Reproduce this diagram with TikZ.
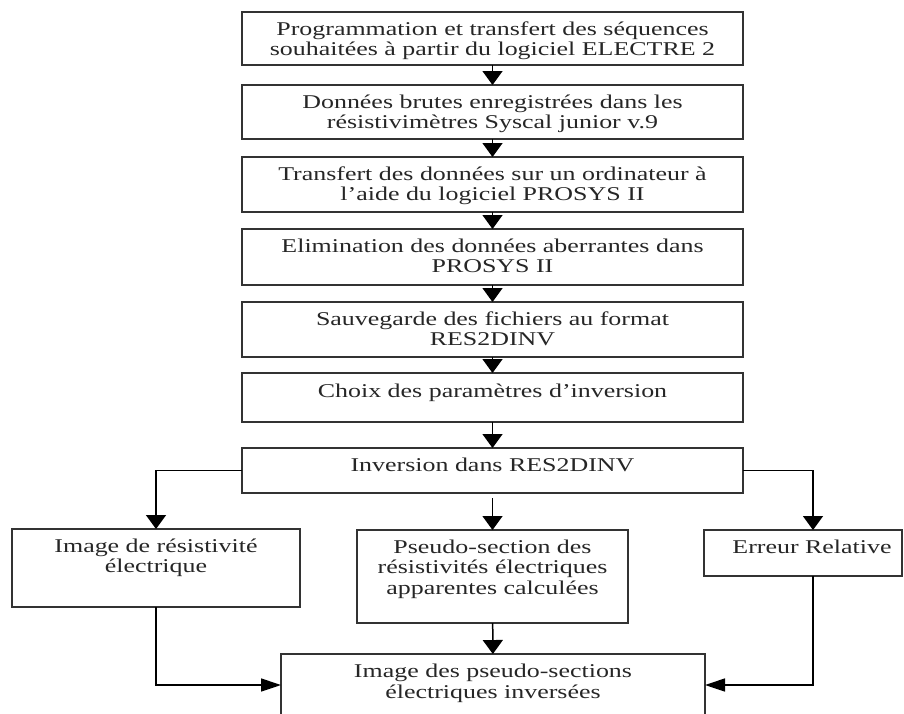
\documentclass[tikz,border=0pt]{standalone}
\usepackage{fontspec}
\setmainfont{Liberation Serif}[FakeStretch=1.33]
\usetikzlibrary{arrows.meta}
\begin{document}
\begin{tikzpicture}[x=1pt,y=-1pt,
  box/.style={draw=black!80,line width=2pt,outer sep=0pt,inner sep=0pt,anchor=north west,align=center,text=black!85,font=\fontsize{19.5}{20}\selectfont,text height=23pt,text width=501pt},
  arr/.style={line width=1.5pt,-{Triangle[width=20pt,length=14pt]}},
  harr/.style={line width=1.5pt,-{Triangle[width=13pt,length=20pt]}}]
\useasboundingbox (0,0) rectangle (904,713);
\clip (0,0) rectangle (904,713);
\node[box,text depth=30pt] (prog) at (242,12) {Programmation et transfert des séquences\\souhaitées à partir du logiciel ELECTRE 2};
\node[box,text depth=31pt] (donnees) at (242,85) {Données brutes enregistrées dans les\\résistivimètres Syscal junior v.9};
\node[box,text depth=32pt] (transfert) at (242,157) {Transfert des données sur un ordinateur à\\l’aide du logiciel PROSYS II};
\node[box,text depth=33pt] (elim) at (242,229) {Elimination des données aberrantes dans\\PROSYS II};
\node[box,text depth=32pt] (sauv) at (242,302) {Sauvegarde des fichiers au format\\RES2DINV};
\node[box,text depth=25pt,text height=24pt] (choix) at (242,373) {Choix des paramètres d’inversion};
\node[box,text depth=22pt] (inv) at (242,448) {Inversion dans RES2DINV};
\node[box,text width=288pt,text depth=55pt] (img) at (12,529) {Image de résistivité\\électrique};
\node[box,text width=271pt,text depth=70pt,font=\fontsize{19.5}{20.5}\selectfont] (pseudo) at (357,530) {Pseudo-section des\\résistivités électriques\\apparentes calculées};
\node[box,text width=198pt,text depth=23pt] (err) at (704,530) {\hspace*{18pt}Erreur Relative};
\node[box,text width=424pt,text depth=39pt,font=\fontsize{19.5}{21}\selectfont] (final) at (281,654) {Image des pseudo-sections\\électriques inversées};
\foreach \a/\b in {prog/donnees,donnees/transfert,transfert/elim,elim/sauv,sauv/choix,choix/inv}
  \draw[arr] (\a) -- (\b);
\coordinate (invgap) at ([yshift=-5pt]inv.south);
\coordinate (errtop) at ([xshift=10pt]err.north);
\coordinate (errbot) at ([xshift=10pt]err.south);
\draw[arr] (inv.west) -| (img);
\draw[arr] (inv.east) -| (errtop);
\draw[arr] (invgap) -- (pseudo);
\draw[arr] (pseudo) -- (final);
\draw[harr] (img) |- (final);
\draw[harr] (errbot) |- (final);
\end{tikzpicture}
\end{document}
